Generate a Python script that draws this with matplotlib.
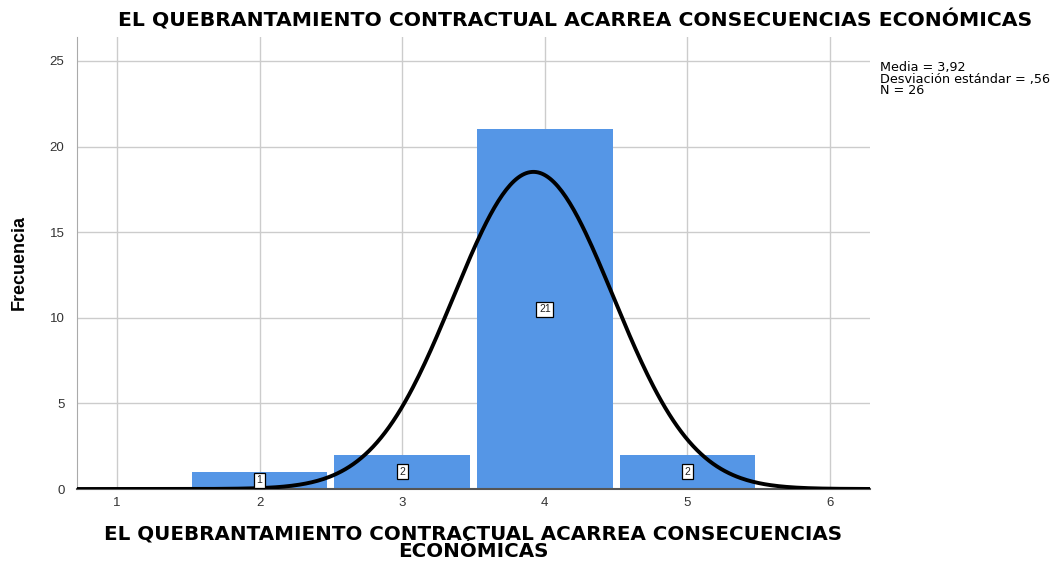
import matplotlib
matplotlib.use("Agg")
import matplotlib.pyplot as plt
import numpy as np

plt.rcParams["font.family"] = ["Liberation Sans", "DejaVu Sans"]

# data
values = [2, 3, 4, 5]
counts = [1, 2, 21, 2]
mean, sd, n = 3.92, 0.56, 26
title = "EL QUEBRANTAMIENTO CONTRACTUAL ACARREA CONSECUENCIAS ECONÓMICAS"
xlabel = "EL QUEBRANTAMIENTO CONTRACTUAL ACARREA CONSECUENCIAS\nECONÓMICAS"
stats = "Media = 3,92\nDesviación estándar = ,56\nN = 26"

fig = plt.figure(figsize=(10.55, 5.62), dpi=100)
ax = fig.add_axes([77 / 1055, 1 - 489 / 562, (870 - 77) / 1055, (489 - 37) / 562])

ax.bar(values, counts, width=0.95, color="#5596e6", edgecolor="none", zorder=2)
for v, c in zip(values, counts):
    ax.text(v, c / 2, str(c), ha="center", va="center", fontsize=7.5, zorder=4,
            color="#222222",
            bbox=dict(boxstyle="square,pad=0.25", fc="white", ec="black", lw=0.9))

xs = np.linspace(0.72, 6.28, 400)
ys = n * 1.0 / (sd * np.sqrt(2 * np.pi)) * np.exp(-0.5 * ((xs - mean) / sd) ** 2)
ax.plot(xs, ys, color="black", lw=2.8, zorder=3, solid_capstyle="butt")

ax.set_xlim(0.72, 6.28)
ax.set_ylim(0, 26.4)
ax.set_xticks([1, 2, 3, 4, 5, 6])
ax.set_yticks([0, 5, 10, 15, 20, 25])
ax.grid(True, color="#cccccc", lw=1, zorder=0)
ax.set_axisbelow(True)
ax.tick_params(length=0, labelsize=9.5, colors="#333333")
ax.tick_params(axis="x", pad=6)
ax.tick_params(axis="y", pad=9)
for s in ["top", "right"]:
    ax.spines[s].set_visible(False)
ax.spines["left"].set_color("#aaaaaa")
ax.spines["bottom"].set_color("#555555")
ax.spines["bottom"].set_linewidth(1.5)

ax.set_ylabel("Frecuencia", fontsize=13, fontweight="bold", labelpad=16)
ax.set_xlabel(xlabel, fontsize=14.3, fontweight="bold", labelpad=11, linespacing=0.88,
              family="DejaVu Sans")
fig.text(575 / 1055, 1 - 20 / 562, title, ha="center", va="center",
         fontsize=14.7, fontweight="bold", family="DejaVu Sans")
fig.text(880 / 1055, 1 - 61 / 562, stats, ha="left", va="top", fontsize=9.2,
         linespacing=0.85, family="DejaVu Sans")

fig.savefig("out.png", dpi=100)
